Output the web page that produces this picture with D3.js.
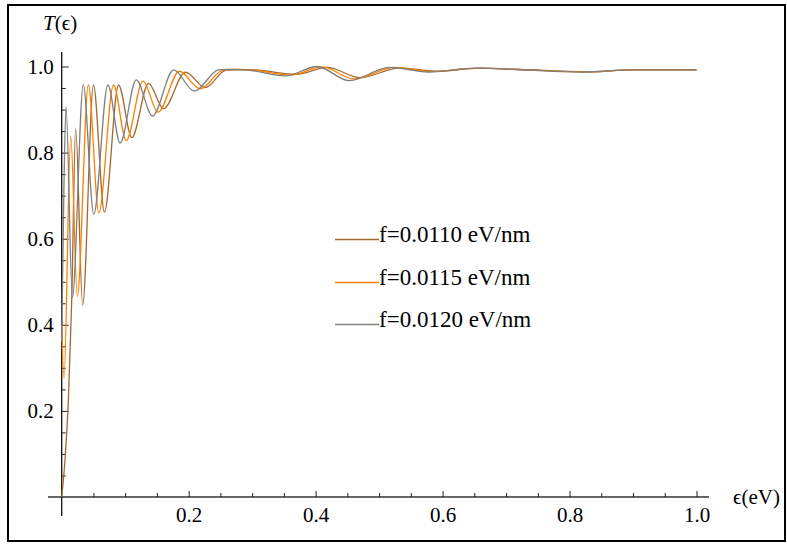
<!DOCTYPE html>
<html>
<head>
<meta charset="utf-8">
<script src="https://cdn.jsdelivr.net/npm/d3@7"></script>
<style>
  body { margin: 0; background: #fff; }
  svg { display: block; }
  text { font-family: "Liberation Serif", "Times New Roman", serif; }
</style>
</head>
<body>
<svg id="chart" width="787" height="547"></svg>
<script>
// [epsilon (eV), T]
var f0110 = [
  [0, 0], [0.0052, 0.086], [0.0105, 0.225], [0.0158, 0.457], [0.022, 0.855],
  [0.033, 0.446], [0.050, 0.957], [0.0673, 0.662], [0.0895, 0.957], [0.1105, 0.835],
  [0.1368, 0.961], [0.1605, 0.902], [0.1948, 0.987], [0.2264, 0.951], [0.258, 0.991],
  [0.275, 0.993], [0.305, 0.992], [0.37, 0.982], [0.418, 0.998], [0.47, 0.974],
  [0.533, 0.997], [0.588, 0.989], [0.66, 0.996], [0.724, 0.993], [0.828, 0.988],
  [0.9, 0.992], [1.0, 0.992]
];
var f0115 = [
  [0, 0.40], [0.0036, 0.275], [0.0142, 0.838], [0.0246, 0.466], [0.042, 0.957],
  [0.0585, 0.660], [0.0816, 0.957], [0.1016, 0.828], [0.128, 0.966], [0.1517, 0.894],
  [0.1853, 0.989], [0.2185, 0.948], [0.252, 0.990], [0.27, 0.993], [0.297, 0.992],
  [0.36, 0.980], [0.41, 0.999], [0.461, 0.971], [0.524, 0.998], [0.582, 0.988],
  [0.656, 0.996], [0.72, 0.993], [0.824, 0.987], [0.9, 0.992], [1.0, 0.992]
];
var f0120 = [
  [0, 0.36], [0.0035, 0.72], [0.0068, 0.906], [0.0168, 0.463], [0.034, 0.957],
  [0.0505, 0.657], [0.0727, 0.957], [0.092, 0.822], [0.1174, 0.969], [0.143, 0.885],
  [0.1763, 0.992], [0.209, 0.943], [0.247, 0.992], [0.262, 0.993], [0.29, 0.992],
  [0.352, 0.978], [0.402, 1.0], [0.453, 0.967], [0.516, 0.998], [0.577, 0.987],
  [0.652, 0.996], [0.717, 0.993], [0.82, 0.987], [0.9, 0.992], [1.0, 0.992]
];

var seriesNames = ['f=0.0110 eV/nm', 'f=0.0115 eV/nm', 'f=0.0120 eV/nm'];
var seriesColors = ['#a3692f', '#ff8000', '#7f7f7f'];
var xMajor = [0.2, 0.4, 0.6, 0.8, 1.0];
var yMajor = [0.2, 0.4, 0.6, 0.8, 1.0];

var svg = d3.select('#chart');

// frame
svg.append('rect')
  .attr('x', 8).attr('y', 5)
  .attr('width', 777).attr('height', 536)
  .attr('fill', 'none')
  .attr('stroke', '#000')
  .attr('stroke-width', 2);

var x = d3.scaleLinear().domain([0, 1]).range([61.7, 696.5]);
var y = d3.scaleLinear().domain([0, 1]).range([497, 66.5]);

var minor = d3.range(1, 20).map(i => i * 0.05)
  .filter(v => Math.abs(v * 5 - Math.round(v * 5)) > 1e-6);

// axis lines
svg.append('line')
  .attr('x1', 48).attr('x2', 709)
  .attr('y1', y(0)).attr('y2', y(0))
  .attr('stroke', '#333').attr('stroke-width', 1.6);
svg.append('line')
  .attr('x1', x(0)).attr('x2', x(0))
  .attr('y1', 52).attr('y2', 516)
  .attr('stroke', '#111').attr('stroke-width', 1.3);

// x axis
var gx = svg.append('g').attr('transform', `translate(0,${y(0)})`);
gx.call(d3.axisBottom(x).tickValues(xMajor).tickSizeInner(-6).tickSizeOuter(0)
  .tickPadding(10).tickFormat(d3.format('.1f')));
gx.append('g').call(d3.axisBottom(x).tickValues(minor).tickSizeInner(-4)
  .tickSizeOuter(0).tickFormat(''));

// y axis
var gy = svg.append('g').attr('transform', `translate(${x(0)},0)`);
gy.call(d3.axisLeft(y).tickValues(yMajor).tickSizeInner(-7).tickSizeOuter(0)
  .tickPadding(8).tickFormat(d3.format('.1f')));
gy.append('g').call(d3.axisLeft(y).tickValues(minor).tickSizeInner(-4)
  .tickSizeOuter(0).tickFormat(''));

svg.selectAll('.domain').remove();
svg.selectAll('.tick line').attr('stroke', '#222').attr('stroke-width', 1);
svg.selectAll('g').attr('font-family', null);
svg.selectAll('.tick text')
  .attr('font-size', 21)
  .attr('fill', '#000');

// axis labels
var tl = svg.append('text')
  .attr('x', 43).attr('y', 30)
  .attr('font-size', 21);
tl.append('tspan').attr('font-style', 'italic').text('T');
tl.append('tspan').text('(\u03F5)');

svg.append('text')
  .attr('x', 733).attr('y', 504)
  .attr('font-size', 21)
  .text('\u03F5(eV)');

// curves
var line = d3.line()
  .x(d => x(d[0]))
  .y(d => y(d[1]))
  .curve(d3.curveMonotoneX);

[f0110, f0115, f0120].forEach(function(data, i) {
  svg.append('path')
    .datum(data)
    .attr('fill', 'none')
    .attr('stroke', seriesColors[i])
    .attr('stroke-width', 1.3)
    .attr('d', line);
});

// legend
var legend = svg.append('g');
seriesNames.forEach(function(name, i) {
  var yy = Math.round(239 + i * 42.5) + 0.5;
  legend.append('line')
    .attr('x1', 335).attr('x2', 379)
    .attr('y1', yy).attr('y2', yy)
    .attr('stroke', seriesColors[i])
    .attr('stroke-width', 1.5);
  legend.append('text')
    .attr('x', 379).attr('y', yy + 2.5)
    .attr('font-size', 23)
    .text(name);
});
</script>
</body>
</html>
